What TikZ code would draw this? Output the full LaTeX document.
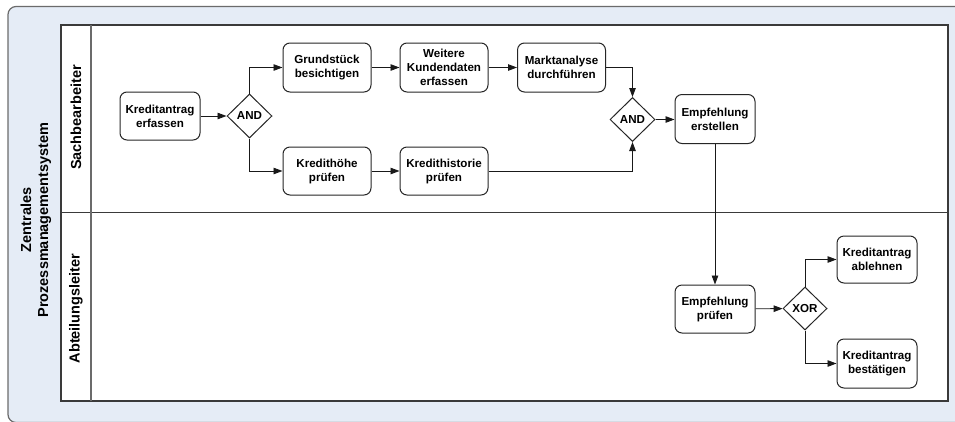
\documentclass[tikz,border=0pt]{standalone}
\usepackage{fontspec}
\setmainfont{Liberation Sans}
\usetikzlibrary{shapes.geometric,arrows.meta}
\definecolor{poolbg}{HTML}{E5ECF6}
\definecolor{frameline}{HTML}{6B6B6B}
\definecolor{laneline}{HTML}{3A3A3A}
\tikzset{
  task/.style={draw=black!85, line width=1pt, rounded corners=7pt, fill=white,
    minimum width=80pt, minimum height=48pt, inner sep=0pt, align=center,
    font=\bfseries\fontsize{11.6}{14}\selectfont},
  widetask/.style={task, minimum width=88pt, minimum height=49pt},
  gate/.style={draw=black!85, line width=1pt, diamond, fill=white,
    minimum width=45pt, minimum height=44pt, inner sep=0pt,
    font=\bfseries\fontsize{11.6}{14}\selectfont},
  flow/.style={draw=black!90, line width=0.9pt, -{Triangle[length=9pt,width=6.5pt]}},
  lanelabel/.style={rotate=90, align=center, font=\bfseries\fontsize{14.5}{17}\selectfont}
}
\begin{document}
\begin{tikzpicture}[x=1pt, y=-1pt]
  \useasboundingbox (0,0) rectangle (955,421);
  \clip (0,0) rectangle (955,421);

  % outer frame of the process system, open towards the right and bottom
  \fill[poolbg, rounded corners=8pt] (960,6.5) -- (8,6.5) -- (8,422.5) -- (960,422.5) -- cycle;
  \draw[frameline, line width=1.2pt, rounded corners=8pt]
    (960,6.5) -- (8,6.5) -- (8,422.5) -- (960,422.5);

  % pool with two lanes
  \fill[white] (61,25) rectangle (948,401);
  \draw[laneline, line width=1.2pt] (61,25) rectangle (948,401);
  \draw[laneline, line width=1.2pt] (61,212.5) -- (948,212.5);
  \draw[frameline, line width=1.2pt] (91,25) -- (91,401);

  % titles
  \node[lanelabel] (pool) at (36,220) {Zentrales\\Prozessmanagementsystem};
  \node[lanelabel] (lane1) at (76,117.5) {Sachbearbeiter};
  \node[lanelabel] (lane2) at (76,308.5) {Abteilungsleiter};

  % lane: Sachbearbeiter
  \node[task] (k1) at (160,116) {Kreditantrag\\erfassen};
  \node[gate] (and1) at (249.5,116) {AND};
  \node[widetask] (g) at (327,67.5) {Grundstück\\besichtigen};
  \node[widetask] (w) at (444,67.5) {Weitere\\Kundendaten\\erfassen};
  \node[widetask] (m) at (561.5,67.5) {Marktanalyse\\durchführen};
  \node[widetask, minimum height=48pt] (kh) at (327,171) {Kredithöhe\\prüfen};
  \node[widetask, minimum height=48pt] (khist) at (444,171) {Kredithistorie\\prüfen};
  \node[gate] (and2) at (632.5,119.5) {AND};
  \node[task, minimum height=49pt] (ee) at (715,119) {Empfehlung\\erstellen};

  % lane: Abteilungsleiter
  \node[task] (ep) at (715,309) {Empfehlung\\prüfen};
  \node[gate, minimum width=44pt, minimum height=43pt] (xor) at (805,308.5) {XOR};
  \node[task, minimum height=47pt] (ka) at (877,259.5) {Kreditantrag\\ablehnen};
  \node[task, minimum height=49pt] (kb) at (877,363.5) {Kreditantrag\\bestätigen};

  % sequence flows
  \draw[flow] (k1) -- (and1);
  \draw[flow] (and1.north) |- (g.west);
  \draw[flow] (and1.south) |- (kh.west);
  \draw[flow] (g) -- (w);
  \draw[flow] (w) -- (m);
  \draw[flow] (m.east) -| (and2.north);
  \draw[flow] (kh) -- (khist);
  \draw[flow] (khist.east) -| (and2.south);
  \draw[flow] (and2) -- (and2 -| ee.west);
  \draw[flow] (ee) -- (ep);
  \draw[flow] (ep) -- (xor);
  \draw[flow] (xor.north) |- (ka.west);
  \draw[flow] (xor.south) |- (kb.west);
\end{tikzpicture}
\end{document}
